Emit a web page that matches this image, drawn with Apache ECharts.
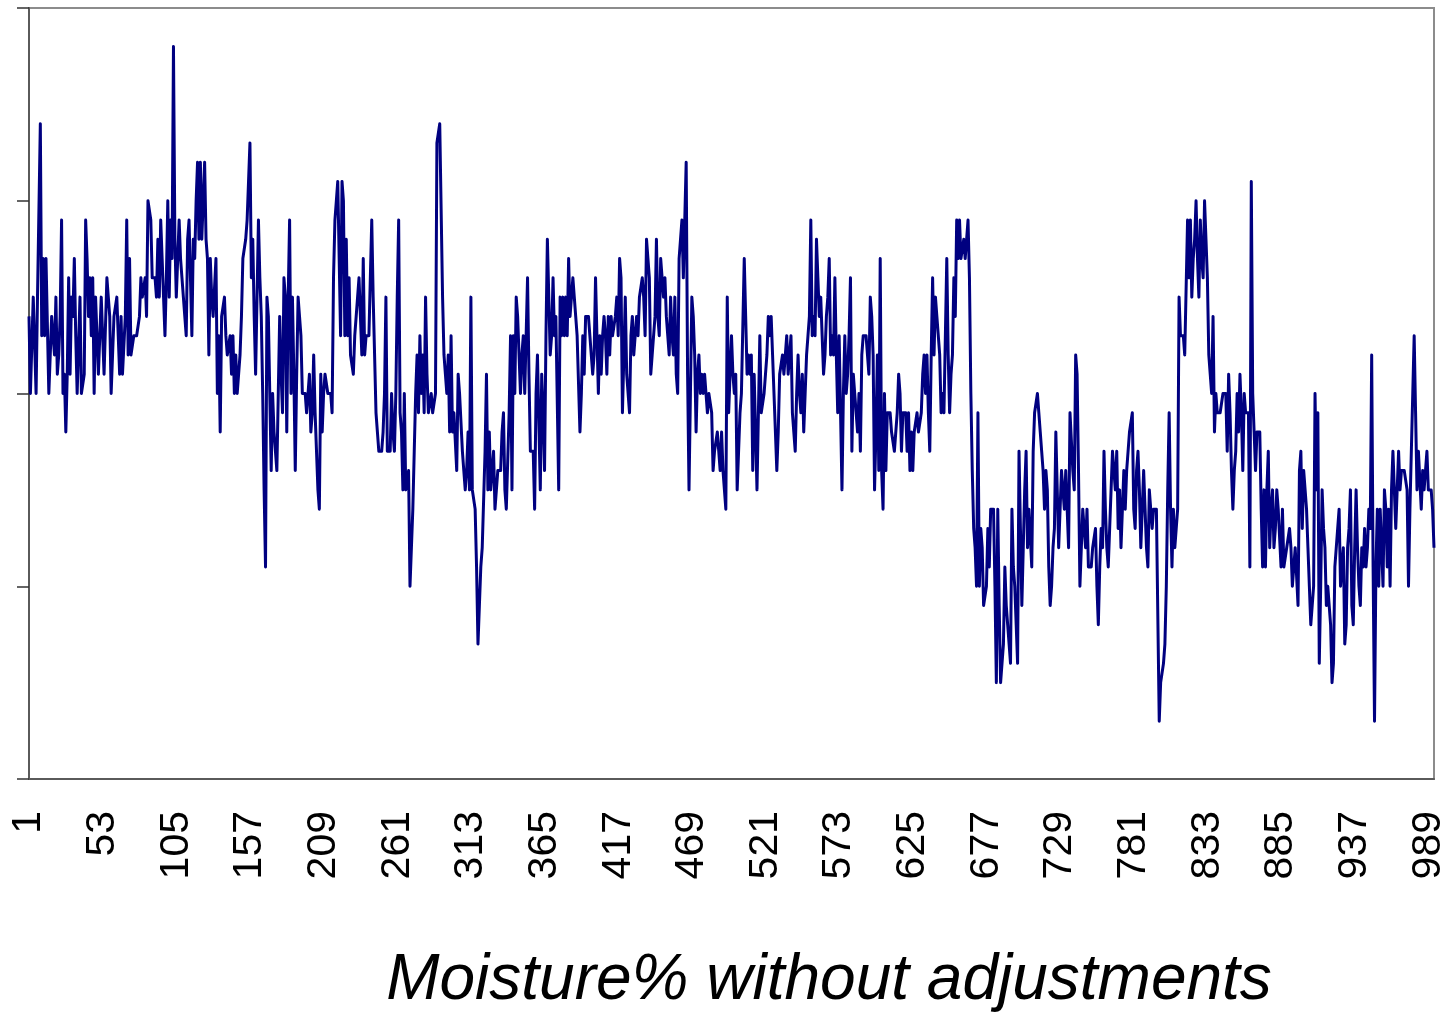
<!DOCTYPE html>
<html>
<head>
<meta charset="utf-8">
<script src="https://cdn.jsdelivr.net/npm/echarts@6/dist/echarts.min.js"></script>
<style>
html,body{margin:0;padding:0;background:#fff;}
#chart{width:1450px;height:1012px;}
</style>
</head>
<body>
<div id="chart"></div>
<script>
// Moisture% readings (y in tenths-of-percent steps above the axis minimum; axis labels are hidden in the original)
const seg0 = [24,20,20,25,25,20,25,25,34,23, 27,23,27,27,20,22,24,24,22,25, 21,22,24,29,20,21,18,21,26,21, 25,24,27,23,20,20,25,20,20,21, 29,27,24,26,23,26,20,25,23,21, 23,25,23,21,21,26,25,24,20,22, 24,24,25,23,21,24,21,21,24,29, 22,27,22,22,23,23,23,23,24,26, 25,25,26,24,30,30,29,26,26,26, 25,28,25,29,27,25,23,26,30,25];
const seg1 = [29,27,38,28,25,27,29,27,26,25, 24,23,28,29,26,23,28,27,30,32, 28,32,28,30,32,28,27,22,27,25, 24,24,27,20,23,18,24,24,25,23, 22,22,23,21,23,20,22,20,21,22, 24,27,27,28,29,31,33,26,28,24, 21,25,29,26,24,20,15,11,25,24, 20,16,20,18,18,16,20,24,21,19, 26,25,18,25,29,20,25,21,16,21, 25,24,23,20,20,20,19,20,21,18];
const seg2 = [19,22,19,17,15,14,21,18,20,21, 21,20,20,20,19,26,29,30,31,31, 23,31,30,23,28,23,26,22,22,21, 23,24,25,26,24,22,27,22,23,23, 23,23,29,25,25,19,18,17,17,17, 18,20,25,17,17,17,20,18,17,20, 25,29,19,18,15,20,15,15,16,10, 12,14,17,20,22,19,23,20,22,19, 25,21,19,19,20,19,19,20,33,33, 34,34,25,22,21,20,22,18,23,18];
const seg3 = [19,19,16,21,20,20,17,16,15,16, 18,15,25,15,15,14,11,7,9,11, 12,12,17,21,15,18,15,16,17,14, 15,16,16,16,18,19,15,14,14,19, 23,15,23,20,25,24,24,20,22,23, 20,23,26,21,17,17,17,14,20,22, 22,15,21,19,16,23,28,25,22,23, 26,23,24,24,15,25,23,25,23,25, 23,27,24,24,26,25,24,23,23,18, 20,23,21,24,24,24,23,22,21,22];
const seg4 = [26,23,20,23,21,23,24,23,21,24, 22,24,23,23,24,25,23,27,26,19, 22,25,21,21,19,23,24,22,23,24, 23,25,25,26,25,23,28,27,26,21, 22,22,24,28,24,23,27,26,25,26, 24,23,22,25,23,22,25,21,20,27, 28,29,26,29,32,21,15,20,25,24, 22,18,21,22,20,21,20,21,20,19, 20,20,19,16,17,17,18,18,16,18, 16,15,14,25,19,19,23,21,20,21];
const seg5 = [15,17,19,20,20,27,24,21,22,21, 22,16,21,18,15,15,23,19,19,20, 21,22,24,23,24,22,22,18,16,18, 21,21,22,21,22,23,21,22,23,19, 18,17,20,22,20,19,21,18,20,22, 23,24,29,23,24,23,28,26,24,25, 23,21,22,24,25,27,22,23,22,26, 22,19,23,19,15,20,23,20,21,23, 26,17,21,20,20,18,20,17,22,23, 23,23,23,21,25,24,22,15,18,22];
const seg6 = [16,27,16,14,20,16,19,19,19,18, 18,17,17,19,21,20,17,19,19,19, 17,19,16,18,16,18,18,19,18,18, 19,21,22,20,22,19,17,22,26,22, 25,24,24,22,19,20,19,19,27,22, 19,21,22,26,24,29,27,29,27,27, 28,27,27,29,26,20,16,13,12,10, 19,10,13,12,9,9,10,13,11,14, 14,14,10,5,14,9,5,5,7,11, 9,8,7,6,14,11,10,8,6,17];
const seg7 = [13,9,12,15,17,12,14,14,11,17, 19,19,20,19,18,17,16,14,16,15, 11,9,10,12,13,18,15,12,14,16, 16,14,16,14,12,19,19,16,15,22, 21,16,10,10,14,13,12,14,11,11, 11,12,12,13,10,8,11,13,12,17, 14,12,11,13,15,17,16,15,17,13, 15,12,14,16,14,16,17,18,18,19, 14,13,16,17,15,12,14,16,14,12, 11,15,14,13,14,14,14,14,3,5];
const seg8 = [5,6,7,10,15,19,14,11,14,12, 13,14,25,23,23,23,22,22,29,26, 29,25,27,28,30,27,25,29,27,26, 30,28,26,22,21,20,24,18,20,19, 19,19,19,20,20,20,17,21,19,16, 14,16,17,20,18,21,19,16,20,19, 19,19,11,31,20,18,16,18,18,18, 14,11,15,11,15,17,12,14,15,12, 13,15,14,14,11,14,11,11,12,12, 13,12,10,11,12,12,9,16,17,13];
const seg9 = [16,16,14,12,10,8,9,10,20,15, 19,6,10,15,13,12,9,10,10,8, 5,6,11,12,13,14,10,11,12,7, 8,12,13,15,9,8,12,15,12,10, 9,12,11,13,11,12,14,13,22,11, 3,11,14,10,14,12,10,15,14,11, 14,10,15,17,15,13,15,17,15,16, 16,16,16,15,10,14,17,20,23,19, 15,17,17,14,16,15,16,17,15,15, 15,14,12];

const values = [].concat(seg0, seg1, seg2, seg3, seg4, seg5, seg6, seg7, seg8, seg9);
const categories = [];
for (let k = 1; k <= values.length; k++) categories.push(String(k));
const titleText = 'Moisture% without adjustments';

const chart = echarts.init(document.getElementById('chart'), null, {renderer: 'canvas'});
chart.setOption({
  animation: false,
  backgroundColor: '#ffffff',
  title: {
    text: titleText,
    left: 824,
    textAlign: 'center',
    top: 944,
    textStyle: {fontFamily: 'Liberation Sans, Arial, sans-serif', fontStyle: 'italic', fontWeight: 'normal', fontSize: 64, color: '#000'}
  },
  grid: {left: 29, right: 16, top: 8, bottom: 233, show: true, borderColor: '#8c8c8c', borderWidth: 2, containLabel: false},
  xAxis: {
    type: 'category',
    data: categories,
    boundaryGap: false,
    axisLine: {show: true, lineStyle: {color: '#5a5a5a', width: 2}},
    axisTick: {show: false},
    axisLabel: {interval: 51, rotate: 90, margin: 32, fontSize: 41, color: '#000', fontFamily: 'Liberation Sans, Arial, sans-serif'},
    splitLine: {show: false}
  },
  yAxis: {
    type: 'value',
    min: 0, max: 40, interval: 10,
    axisLine: {show: true, lineStyle: {color: '#5a5a5a', width: 2}},
    axisTick: {show: true, length: 12, lineStyle: {color: '#333', width: 1.5}},
    axisLabel: {show: false},
    splitLine: {show: false}
  },
  series: [{
    type: 'line',
    data: values,
    symbol: 'none',
    sampling: null,
    lineStyle: {color: '#000080', width: 3, join: 'round'},
    itemStyle: {color: '#000080'}
  }]
});
</script>
</body>
</html>
